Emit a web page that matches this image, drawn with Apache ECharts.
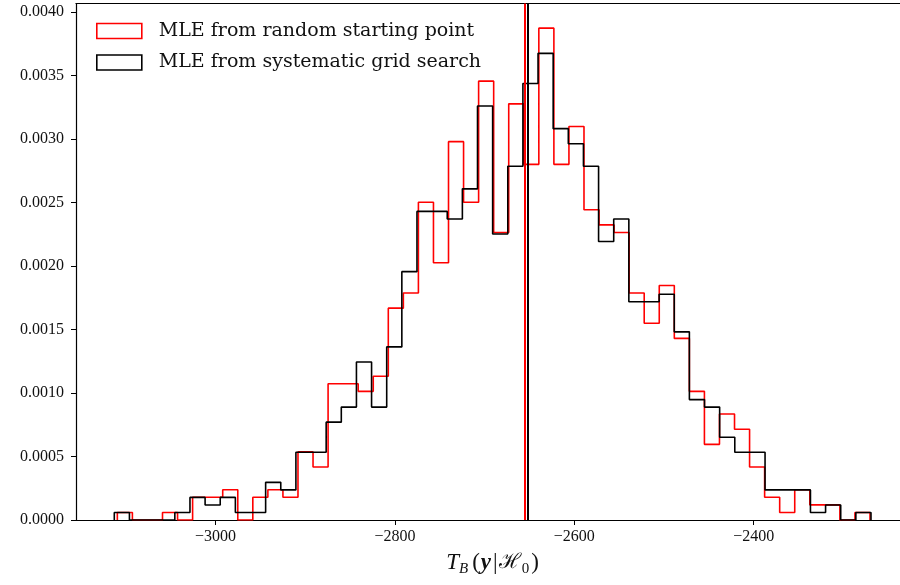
<!DOCTYPE html>
<html><head><meta charset="utf-8">
<script src="https://cdn.jsdelivr.net/npm/echarts@6.0.0/dist/echarts.min.js"></script>
<style>html,body{margin:0;padding:0;background:#fff}#c{width:900px;height:585px}</style>
</head><body><div id="c"></div>
<script>
// ---- data (50 bins each, n = 1000 samples) ----
const nSamples = 1000;
const redRange = [-3109.5, -2270.3];     // histogram range, random start
const blackRange = [-3112.9, -2269.2];   // histogram range, grid search
const redCounts = [1,0,0,1,0,3,3,4,0,3,4,3,9,7,18,18,17,19,28,30,42,34,50,42,58,38,55,47,65,47,52,41,39,38,30,26,31,24,17,10,14,12,7,3,1,4,2,2,0,1];
const blackCounts = [1,0,0,0,1,3,2,3,1,1,5,4,9,9,13,15,21,15,23,33,41,41,40,44,55,38,47,58,62,52,50,47,37,40,29,29,30,25,16,15,11,9,9,4,4,4,1,2,0,1];
const redMean = -2655.4;
const blackMean = -2652.1;
const xTicks = [-3000, -2800, -2600, -2400];
const yTicks = [0, 0.0005, 0.001, 0.0015, 0.002, 0.0025, 0.003, 0.0035, 0.004];
const seriesNames = ['MLE from random starting point', 'MLE from systematic grid search'];
const xLimits = [-3155.6, -2225.7];
const yLimits = [0, 0.004067];

// step outline of a density histogram
function stepPath(range, counts) {
  const nb = counts.length;
  const w = (range[1] - range[0]) / nb;
  const pts = [[range[0], 0]];
  for (let i = 0; i < nb; i++) {
    const d = counts[i] / (nSamples * w);
    pts.push([range[0] + i * w, d]);
    pts.push([range[0] + (i + 1) * w, d]);
  }
  pts.push([range[1], 0]);
  return pts;
}

const serif = 'Liberation Serif';
const chart = echarts.init(document.getElementById('c'), null, {renderer: 'canvas'});
chart.setOption({
  animation: false,
  backgroundColor: '#fff',
  grid: {left: 76, width: 834, top: 3.5, bottom: 65, containLabel: false, outerBoundsMode: 'none'},
  legend: {
    orient: 'vertical', left: 96, top: 21, padding: 0,
    itemWidth: 45, itemHeight: 15, itemGap: 11.5,
    icon: 'rect',
    textStyle: {fontFamily: 'DejaVu Serif', fontSize: 19, color: '#111', padding: [0, 0, 0, 12], lineHeight: 20},
    data: [
      {name: seriesNames[0], icon: 'rect', itemStyle: {color: 'rgba(255,255,255,0)', borderColor: '#ff0000', borderWidth: 1.6}},
      {name: seriesNames[1], icon: 'rect', itemStyle: {color: 'rgba(255,255,255,0)', borderColor: '#000000', borderWidth: 1.6}}
    ]
  },
  xAxis: [{
    type: 'value', min: xLimits[0], max: xLimits[1], position: 'bottom',
    splitLine: {show: false},
    axisLine: {show: true, onZero: false, lineStyle: {color: '#000', width: 1.2}},
    axisTick: {show: true, length: 5, customValues: xTicks, lineStyle: {color: '#000', width: 1}},
    axisLabel: {customValues: xTicks, margin: 9, fontFamily: serif, fontSize: 16, color: '#111',
      formatter: v => (v < 0 ? '\u2212' + Math.abs(v) : String(v))},
    name: '{i|T}{si|B}{n|(}{b|y}{n||}{h|\u210B}{s|0}{n|)}',
    nameLocation: 'middle', nameGap: 29,
    nameTextStyle: {
      rich: {
        i: {fontFamily: serif, fontStyle: 'italic', fontSize: 23, color: '#111', lineHeight: 28},
        si: {fontFamily: serif, fontStyle: 'italic', fontSize: 15, color: '#111', verticalAlign: 'bottom', lineHeight: 17, padding: [0, 3, 0, 0]},
        s: {fontFamily: serif, fontSize: 15, color: '#111', verticalAlign: 'bottom', lineHeight: 17, padding: [0, 1, 0, 1]},
        n: {fontFamily: serif, fontSize: 23, color: '#111', lineHeight: 28, padding: [0, 1, 0, 1]},
        b: {fontFamily: serif, fontStyle: 'italic', fontWeight: 'bold', fontSize: 23, color: '#111', lineHeight: 28, padding: [0, 1, 0, 0]},
        h: {fontFamily: 'DejaVu Serif', fontSize: 21, color: '#111', lineHeight: 28}
      }
    }
  }, {
    type: 'value', min: xLimits[0], max: xLimits[1], position: 'top',
    splitLine: {show: false},
    axisLine: {show: true, onZero: false, lineStyle: {color: '#000', width: 1.2}},
    axisTick: {show: false}, axisLabel: {show: false}
  }],
  yAxis: {
    type: 'value', min: yLimits[0], max: yLimits[1],
    splitLine: {show: false},
    axisLine: {show: true, onZero: false, lineStyle: {color: '#000', width: 1.2}},
    axisTick: {show: true, length: 5, customValues: yTicks, lineStyle: {color: '#000', width: 1}},
    axisLabel: {customValues: yTicks, margin: 12, fontFamily: serif, fontSize: 16, color: '#111',
      formatter: v => v.toFixed(4)}
  },
  series: [
    {name: seriesNames[0], type: 'line', data: stepPath(redRange, redCounts), symbol: 'none',
      color: '#ff0000', lineStyle: {color: '#ff0000', width: 1.6}, z: 2, clip: true},
    {name: seriesNames[1], type: 'line', data: stepPath(blackRange, blackCounts), symbol: 'none',
      color: '#000000', lineStyle: {color: '#000000', width: 1.6}, z: 3, clip: true},
    {name: 'redMean', type: 'line', data: [], z: 4, silent: true,
      markLine: {symbol: 'none', silent: true, label: {show: false}, animation: false,
        lineStyle: {color: '#ff0000', width: 2, type: 'solid'}, data: [{xAxis: redMean}]}},
    {name: 'blackMean', type: 'line', data: [], z: 5, silent: true,
      markLine: {symbol: 'none', silent: true, label: {show: false}, animation: false,
        lineStyle: {color: '#000000', width: 2, type: 'solid'}, data: [{xAxis: blackMean}]}}
  ]
});
</script></body></html>
